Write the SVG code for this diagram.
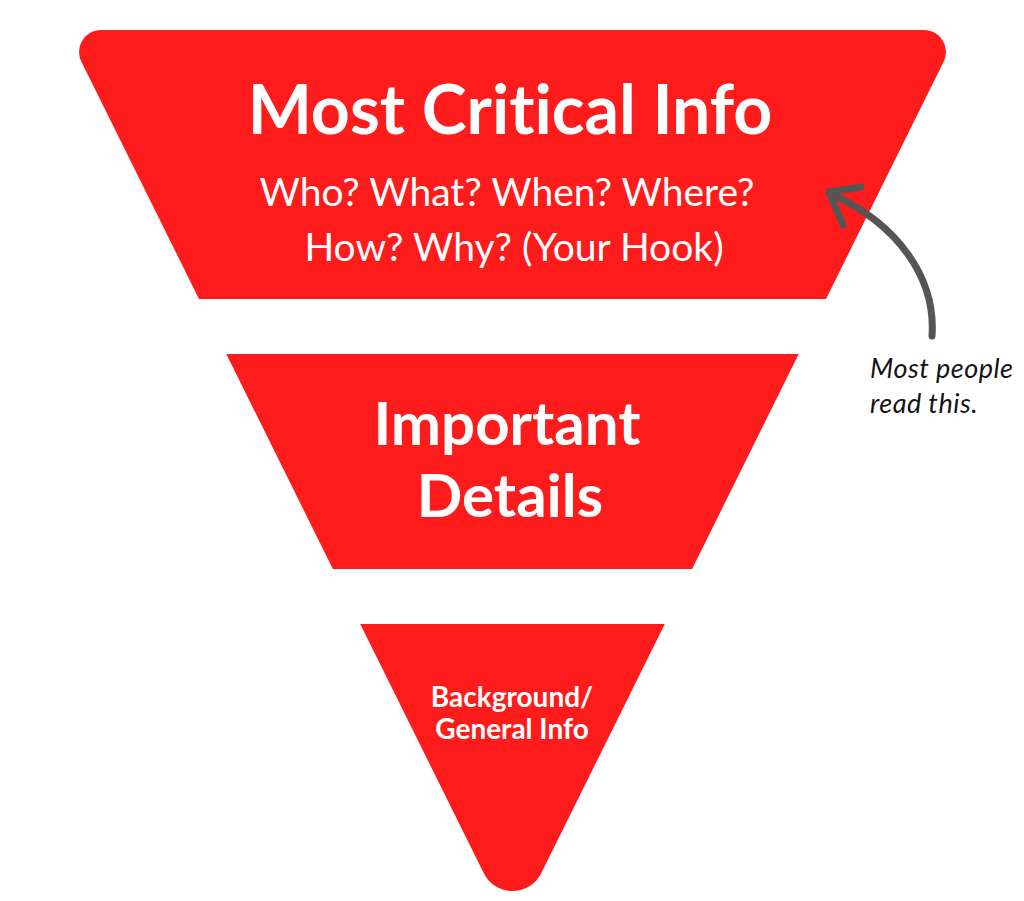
<svg xmlns="http://www.w3.org/2000/svg" width="1024" height="901" viewBox="0 0 1024 901">
  <style>
    .band { fill: #FD1B1B; }
    .title { font-family: Lato, "Liberation Sans", sans-serif; font-weight: 700; fill: #ffffff; text-anchor: middle; font-variant-ligatures: none; }
    .sub { font-family: Lato, "Liberation Sans", sans-serif; font-weight: 400; fill: #ffffff; text-anchor: middle; font-variant-ligatures: none; }
    .note { font-family: Lato, "Liberation Sans", sans-serif; font-style: italic; fill: #151515; font-size: 27px; letter-spacing: 0.5px; font-variant-ligatures: none; }
    .arrow { fill: none; stroke: #555555; stroke-width: 7; stroke-linecap: round; stroke-linejoin: round; }
  </style>
  <rect width="1024" height="901" fill="#ffffff"/>
  <g id="node-critical">
    <path class="band" d="M 101.1,30 L 923.9,30 A 22 22 0 0 1 943.6,61.8 L 826,299 L 199,299 L 81.4,61.8 A 22 22 0 0 1 101.1,30 Z"/>
    <text class="title" x="510" y="134" font-size="68">Most Critical Info</text>
    <text class="sub" x="507" y="206" font-size="39">Who? What? When? Where?</text>
    <text class="sub" x="514" y="261" font-size="39">How? Why? (Your Hook)</text>
  </g>
  <g id="node-important">
    <path class="band" d="M 226.3,354 L 798.7,354 L 692.1,569 L 332.9,569 Z"/>
    <text class="title" x="507" y="445" font-size="60">Important</text>
    <text class="title" x="510" y="517" font-size="60">Details</text>
  </g>
  <g id="node-background">
    <path class="band" d="M 360.2,624 L 664.8,624 L 541.2,873.2 A 32 32 0 0 1 483.8,873.2 Z"/>
    <text class="title" x="512" y="706.5" font-size="28">Background/</text>
    <text class="title" x="512" y="738.5" font-size="28">General Info</text>
  </g>
  <g id="note">
    <text class="note" x="870" y="378">Most people</text>
    <text class="note" x="870" y="413">read this.</text>
  </g>
  <g id="connectors">
    <path class="arrow" d="M 932,336 C 936,278 898,224 831,194"/>
    <path class="arrow" d="M 861,187 L 829,192 L 843,225"/>
  </g>
</svg>
